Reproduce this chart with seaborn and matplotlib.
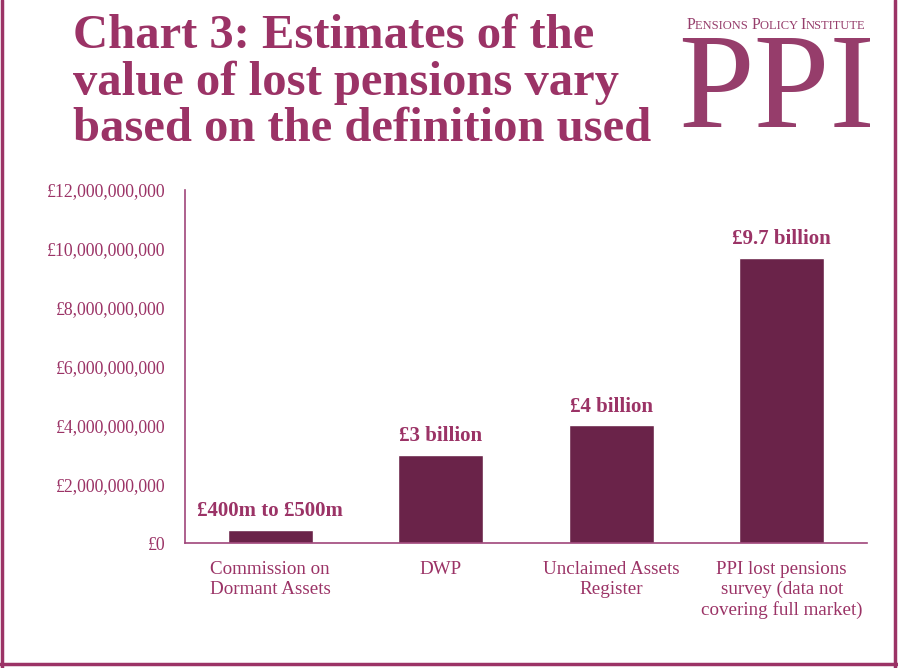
import matplotlib
matplotlib.use('Agg')
import matplotlib.pyplot as plt
import seaborn as sns
import pandas as pd
from matplotlib.lines import Line2D
from matplotlib.ticker import FuncFormatter
from matplotlib.offsetbox import TextArea, HPacker, AnnotationBbox

# data
sources = ['Commission on\nDormant Assets', 'DWP', 'Unclaimed Assets\nRegister',
           'PPI lost pensions\nsurvey (data not\ncovering full market)']
values = [450e6, 3e9, 4e9, 9.7e9]
value_labels = ['£400m to £500m', '£3 billion', '£4 billion', '£9.7 billion']

df = pd.DataFrame({'source': sources, 'value': values})

pink = '#9B3366'
logo_col = '#963D6B'
bar_col = '#6A2349'

sns.set_style('white')
plt.rcParams['font.family'] = ['Liberation Serif', 'DejaVu Serif']

fig = plt.figure(figsize=(8.98, 6.68), dpi=100)
ax = fig.add_axes([185/898, 1 - 543/668, 682/898, 353/668])

sns.barplot(data=df, x='source', y='value', color=bar_col, width=0.5,
            saturation=1, ax=ax)

ax.set_ylim(0, 12e9)
ax.set_yticks([0, 2e9, 4e9, 6e9, 8e9, 10e9, 12e9])
ax.yaxis.set_major_formatter(FuncFormatter(lambda v, p: '£0' if v == 0 else f'£{v:,.0f}'))
ax.set_xlabel('')
ax.set_ylabel('')
ax.tick_params(axis='y', length=0, pad=14, labelsize=12.8, labelcolor=pink)
ax.tick_params(axis='x', length=0, pad=13, labelsize=13.7, labelcolor=pink)
for lab in ax.get_xticklabels():
    lab.set_linespacing(1.22)

sns.despine(ax=ax)
for s in ['left', 'bottom']:
    ax.spines[s].set_color('#A0467A')
    ax.spines[s].set_linewidth(1.2)

for i, (v, t) in enumerate(zip(values, value_labels)):
    ax.annotate(t, (i, v), xytext=(0, 6), textcoords='offset points',
                ha='center', va='bottom', fontsize=15, fontweight='bold', color=pink)

# title
fig.text(73/898, 1 - 14/668, 'Chart 3: Estimates of the\nvalue of lost pensions vary\nbased on the definition used',
         ha='left', va='top', fontsize=35, fontweight='bold', color=pink, linespacing=1.07)

# logo: small caps line + big PPI
parts = [('P', 11.5), ('ENSIONS ', 9), ('P', 11.5), ('OLICY ', 9), ('I', 11.5), ('NSTITUTE', 9)]
boxes = [TextArea(t, textprops=dict(fontsize=s, color=logo_col)) for t, s in parts]
pack = HPacker(children=boxes, align='baseline', pad=0, sep=0)
fig.add_artist(AnnotationBbox(pack, (776/898, 1 - 25/668), xycoords='figure fraction',
                              frameon=False, box_alignment=(0.5, 0.5), pad=0))
fig.text(777/898, 1 - 127/668, 'PPI', ha='center', va='baseline',
         fontsize=98, color=logo_col)

# frame lines
for xs, ys in [([2/898, 2/898], [0, 1]), ([895/898, 895/898], [0, 1]),
               ([0, 1], [1 - 664/668, 1 - 664/668])]:
    fig.add_artist(Line2D(xs, ys, transform=fig.transFigure, color=pink, lw=2.5))

fig.savefig('out.png', dpi=100)
